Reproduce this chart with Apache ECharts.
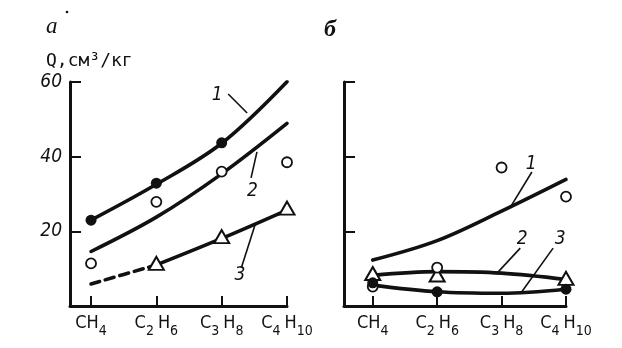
<!DOCTYPE html>
<html><head><meta charset="utf-8">
<script src="https://cdn.jsdelivr.net/npm/echarts@6/dist/echarts.min.js"></script>
<style>html,body{margin:0;padding:0;background:#fff}#c{width:622px;height:348px}</style>
</head><body><div id="c"></div>
<script>
// ---- data ----
const xPos = [1, 2, 3, 4];
const categoryParts = [['CH', '4'], ['C', '2', 'H', '6'], ['C', '3', 'H', '8'], ['C', '4', 'H', '10']];
const yTicks = [0, 20, 40, 60];

// panel а
const aDots = [23.0, 32.9, 43.7, 60.4];
const aCircles = [11.4, 27.9, 36.0, 38.5];
const aTriangles = [null, 11.4, 18.6, 26.2];
const aCurve1 = [23.0, 32.6, 43.6, 60.1];
const aCurve2 = [14.6, 23.8, 35.4, 48.9];
const aCurve3 = [null, 11.0, 18.1, 25.7];
const aCurve3Dashed = [5.9, 11.0, null, null];

// panel б
const bDots = [6.2, 3.8, null, 4.5];
const bCircles = [5.2, 10.3, 37.1, 29.3];
const bTriangles = [8.7, 8.3, null, 7.4];
const bCurve1 = [12.3, 17.5, 25.4, 33.9];
const bCurve2 = [8.2, 9.2, 8.8, 7.1];
const bCurve3 = [5.6, 3.8, 3.4, 4.5];

// curve labels (data coordinates): text, label position, leader from, leader to
const annotations = [
  {grid: 0, text: '1', at: [2.93, 56.5], from: [3.10, 56.8], to: [3.39, 51.7]},
  {grid: 0, text: '2', at: [3.47, 30.8], from: [3.54, 41.3], to: [3.45, 34.3]},
  {grid: 0, text: '3', at: [3.28, 8.3], from: [3.30, 10.2], to: [3.51, 21.7]},
  {grid: 1, text: '1', at: [3.46, 38.0], from: [3.47, 35.9], to: [3.13, 26.3]},
  {grid: 1, text: '2', at: [3.32, 17.9], from: [3.29, 15.5], to: [2.93, 8.8]},
  {grid: 1, text: '3', at: [3.91, 17.9], from: [3.80, 15.5], to: [3.30, 3.5]}
];

// ---- helpers ----
const pairs = arr => xPos.map((x, i) => [x, arr[i]]).filter(p => p[1] != null);
function catLabel(v) {
  const idx = xPos.indexOf(Math.round(v));
  if (idx < 0) return '';
  return categoryParts[idx].map((p, i) => (i % 2 === 0 ? '{m|' : '{s|') + p + '}').join('');
}
const BLACK = '#111';
const xLabelRich = {
  m: {fontSize: 18, lineHeight: 18, fontFamily: 'DejaVu Sans Condensed', color: BLACK, verticalAlign: 'top', padding: [0, 0, 0, 2]},
  s: {fontSize: 14, lineHeight: 14, fontFamily: 'DejaVu Sans Condensed', color: BLACK, verticalAlign: 'top', padding: [10, 2, 0, 0]}
};
function xAxisFor(gridIndex, min) {
  return {
    type: 'value', gridIndex, min, max: 4,
    axisLine: {show: true, lineStyle: {color: BLACK, width: 3}},
    axisTick: {show: true, inside: true, length: 10, customValues: xPos, lineStyle: {color: BLACK, width: 2}},
    axisLabel: {show: true, customValues: xPos, margin: 8, formatter: catLabel, rich: xLabelRich},
    splitLine: {show: false}
  };
}
function yAxisFor(gridIndex, showLabels) {
  return {
    type: 'value', gridIndex, min: 0, max: 60, interval: 20,
    axisLine: {show: true, lineStyle: {color: BLACK, width: 3}},
    axisTick: {show: true, inside: true, length: 11, lineStyle: {color: BLACK, width: 2}},
    axisLabel: {show: showLabels, margin: 8, color: BLACK, fontSize: 19, fontStyle: 'italic',
      fontFamily: 'DejaVu Sans Condensed', formatter: v => (v === 0 ? '' : String(v))},
    splitLine: {show: false}
  };
}
function curve(idx, arr, dashed) {
  return {type: 'line', xAxisIndex: idx, yAxisIndex: idx, data: pairs(arr), smooth: 0.35,
    symbol: 'none', silent: true, z: 2,
    lineStyle: {color: BLACK, width: 3.6, opacity: 1, type: dashed ? [9, 6] : 'solid', cap: 'round'}};
}
function marks(idx, arr, kind) {
  const base = {type: 'scatter', xAxisIndex: idx, yAxisIndex: idx, data: pairs(arr), silent: true};
  if (kind === 'dot') return Object.assign(base, {symbol: 'circle', symbolSize: 11, z: 5,
    itemStyle: {color: BLACK, opacity: 1}});
  if (kind === 'circle') return Object.assign(base, {symbol: 'circle', symbolSize: 10, z: 4,
    itemStyle: {color: '#fff', borderColor: BLACK, borderWidth: 1.8, opacity: 1}});
  return Object.assign(base, {symbol: 'triangle', symbolSize: [15, 13], z: 3,
    itemStyle: {color: '#fff', borderColor: BLACK, borderWidth: 2, opacity: 1}});
}

const chart = echarts.init(document.getElementById('c'), null, {renderer: 'canvas'});
chart.setOption({
  backgroundColor: '#fff',
  animation: false,
  title: [
    {text: 'а', left: 41, top: 10, textStyle: {fontSize: 23, fontStyle: 'italic', fontWeight: 'normal', fontFamily: 'Liberation Serif', color: BLACK}},
    {text: 'б', left: 319, top: 13, textStyle: {fontSize: 24, fontStyle: 'italic', fontWeight: 'bold', fontFamily: 'Liberation Serif', color: BLACK}},
    {text: 'Q,см³/кг', left: 41, top: 47, textStyle: {fontSize: 18, fontWeight: 'normal', fontFamily: 'DejaVu Sans Mono', color: BLACK}}
  ],
  grid: [
    {left: 70, top: 82, width: 217, height: 224, outerBoundsMode: 'none'},
    {left: 344, top: 82, width: 222, height: 224, outerBoundsMode: 'none'}
  ],
  xAxis: [xAxisFor(0, 0.678), xAxisFor(1, 0.554)],
  yAxis: [yAxisFor(0, true), yAxisFor(1, false)],
  series: [
    curve(0, aCurve1), curve(0, aCurve2), curve(0, aCurve3), curve(0, aCurve3Dashed, true),
    marks(0, aTriangles, 'tri'), marks(0, aCircles, 'circle'), marks(0, aDots, 'dot'),
    curve(1, bCurve1), curve(1, bCurve2), curve(1, bCurve3),
    marks(1, bTriangles, 'tri'), marks(1, bCircles, 'circle'), marks(1, bDots, 'dot')
  ]
});

// annotations via data -> pixel conversion
const g = [];
annotations.forEach(a => {
  const p = chart.convertToPixel({gridIndex: a.grid}, a.at);
  const f = chart.convertToPixel({gridIndex: a.grid}, a.from);
  const t = chart.convertToPixel({gridIndex: a.grid}, a.to);
  g.push({type: 'line', shape: {x1: f[0], y1: f[1], x2: t[0], y2: t[1]}, style: {stroke: BLACK, lineWidth: 1.6}, z: 10});
  g.push({type: 'text', x: p[0], y: p[1], style: {text: a.text, align: 'center', verticalAlign: 'middle',
    font: 'italic 19px "DejaVu Sans Condensed"', fill: BLACK}, z: 10});
});
g.push({type: 'circle', shape: {cx: 67, cy: 12, r: 1.3}, style: {fill: BLACK}});
chart.setOption({graphic: g});
</script></body></html>
